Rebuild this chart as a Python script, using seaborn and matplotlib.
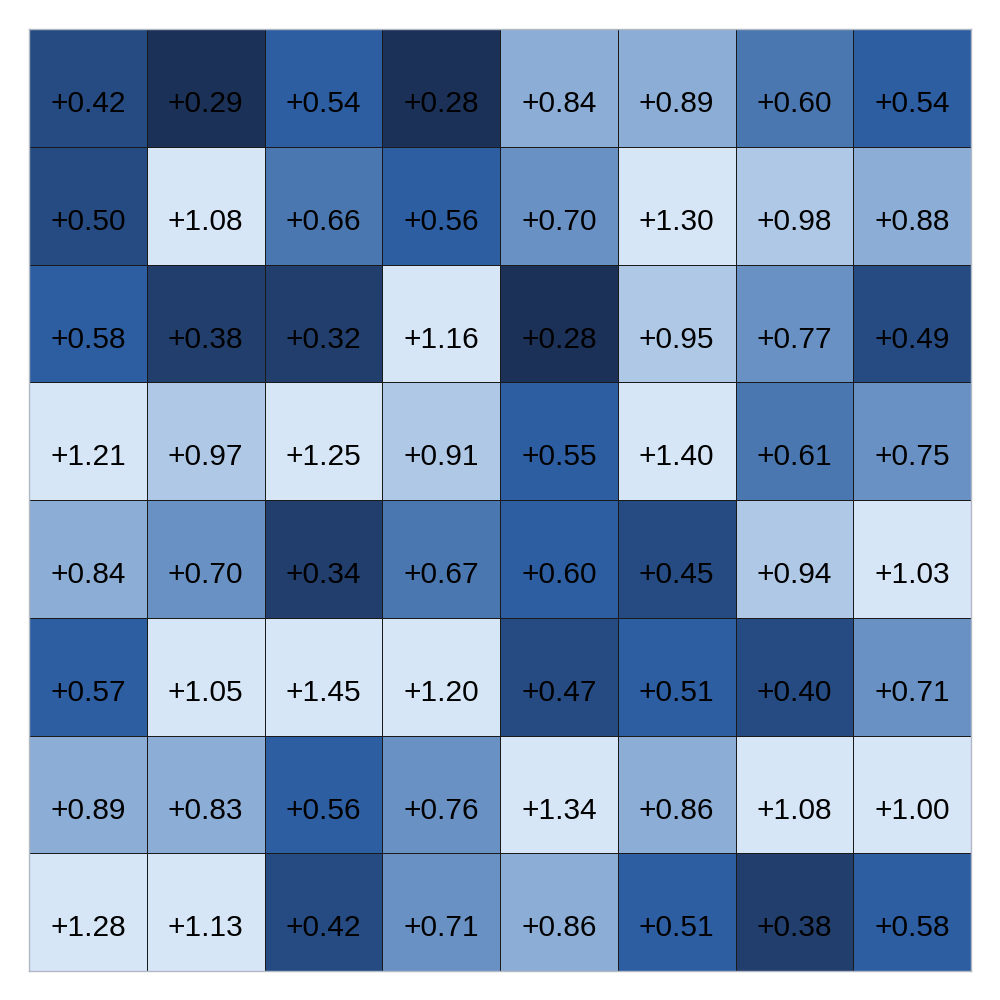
import numpy as np
import seaborn as sns
import matplotlib
matplotlib.use("Agg")
import matplotlib.pyplot as plt
from matplotlib.colors import ListedColormap, BoundaryNorm

# values (row by row, top to bottom)
row0 = [0.42, 0.29, 0.54, 0.28, 0.84, 0.89, 0.604, 0.54]
row1 = [0.498, 1.08, 0.66, 0.56, 0.70, 1.30, 0.98, 0.88]
row2 = [0.58, 0.38, 0.32, 1.16, 0.28, 0.95, 0.77, 0.49]
row3 = [1.21, 0.97, 1.25, 0.91, 0.55, 1.40, 0.61, 0.75]
row4 = [0.84, 0.70, 0.34, 0.67, 0.597, 0.45, 0.94, 1.03]
row5 = [0.57, 1.05, 1.45, 1.20, 0.47, 0.51, 0.40, 0.71]
row6 = [0.89, 0.83, 0.56, 0.76, 1.34, 0.86, 1.08, 1.00]
row7 = [1.28, 1.13, 0.42, 0.71, 0.86, 0.51, 0.38, 0.58]

data = np.array([row0, row1, row2, row3, row4, row5, row6, row7])

bounds = [0.2, 0.3, 0.4, 0.5, 0.6, 0.7, 0.8, 0.9, 1.0, 1.6]
colors = ["#1c3157", "#213e6d", "#254b82", "#2d5ea2", "#4a77b0",
          "#6a91c4", "#8badd6", "#aec8e6", "#d6e6f7"]
cmap = ListedColormap(colors)
norm = BoundaryNorm(bounds, cmap.N)

plt.rcParams["font.family"] = ["Liberation Sans", "DejaVu Sans"]

fig, ax = plt.subplots(figsize=(10, 10), dpi=100)
fig.subplots_adjust(left=0.029, right=0.971, bottom=0.029, top=0.971)

sns.heatmap(data, cmap=cmap, norm=norm, annot=True, fmt="+.2f",
            annot_kws={"fontsize": 21.5, "color": "black", "va": "top"},
            linewidths=0.5, linecolor="#1a1a1a", cbar=False,
            xticklabels=False, yticklabels=False, square=True, ax=ax)

# labels sit a little below the cell centres (y axis is inverted)
for t in ax.texts:
    x, y = t.get_position()
    t.set_position((x, y + 0.02))

for s in ax.spines.values():
    s.set_visible(True)
    s.set_color("#b0b8c4")
    s.set_linewidth(1)

plt.savefig("out.png", dpi=100)
